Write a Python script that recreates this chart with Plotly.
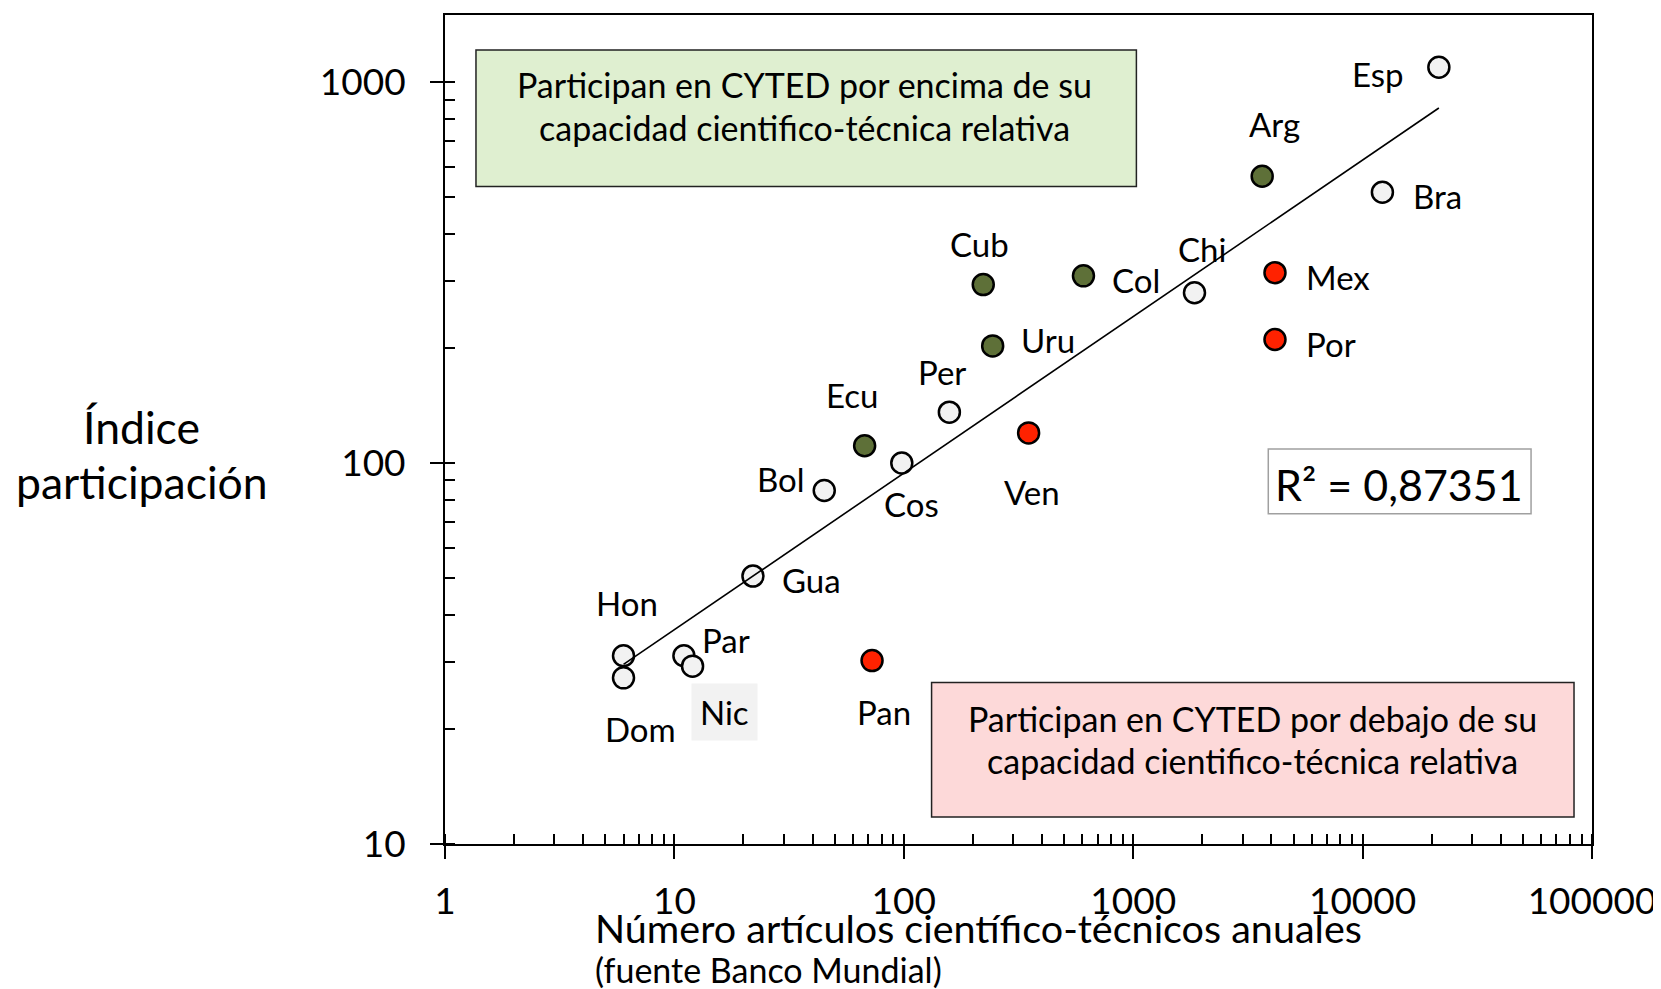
import numpy as np
import plotly.graph_objects as go

# ---- data ----
countries = ["Esp", "Arg", "Bra", "Chi", "Col", "Mex", "Por", "Cub", "Uru", "Per",
             "Ven", "Ecu", "Cos", "Bol", "Gua", "Hon", "Dom", "Par", "Nic", "Pan"]
articles = [21500, 3650, 12200, 1850, 607, 4150, 4150, 222, 244, 158,
            350, 67.5, 98, 45, 22, 6.0, 6.0, 11.0, 12.0, 72.7]
participation = [1094, 566, 514, 280, 310, 316, 211, 294, 203, 136,
                 120, 111, 100, 84.7, 50.5, 31.2, 27.3, 31.2, 29.3, 30.3]
group = ["neutral", "above", "neutral", "neutral", "above", "below", "below", "above", "above", "neutral",
         "below", "above", "neutral", "neutral", "neutral", "neutral", "neutral", "neutral", "neutral", "below"]

trend_x = [6.0, 21500]
trend_y = [29.6, 855]

r2_text = "R² = 0,87351"
x_ticks = [1, 10, 100, 1000, 10000, 100000]
y_ticks = [10, 100, 1000]

# ---- styles ----
FONT = "Lato"
fill_colors = {"above": "#5e7038", "below": "#ff2200", "neutral": "#f2f2f2"}
label_offsets = {
    "Esp": (-61, -7), "Arg": (12, 52), "Bra": (55, -4), "Chi": (8, 44), "Col": (53, -4),
    "Mex": (63, -4), "Por": (56, -4), "Cub": (-4, 41), "Uru": (55, 6), "Per": (-7, 40),
    "Ven": (3, -59), "Ecu": (-13, 51), "Cos": (10, -41), "Bol": (-43, 12), "Gua": (59, -4),
    "Hon": (3, 53), "Par": (42, 16), "Nic": (32, -46), "Dom": (17, -51), "Pan": (12, -51),
}

OFF = 8  # page body margin
PAGE_W, PAGE_H = 1661, 989
W, H = PAGE_W - OFF, PAGE_H - OFF
L, R, T, B = 445 - OFF, 68, 13 - OFF, 145
PW, PH = W - L - R, H - T - B


def xp(px):  # page pixel -> paper
    return (px - OFF - L) / PW


def yp(py):
    return (H - B - (py - OFF)) / PH


fig = go.Figure()

for g in ["neutral", "above", "below"]:
    idx = [i for i, gg in enumerate(group) if gg == g]
    fig.add_trace(go.Scatter(
        x=[articles[i] for i in idx], y=[participation[i] for i in idx],
        mode="markers",
        marker=dict(size=21, color=fill_colors[g], line=dict(color="black", width=2.5)),
        showlegend=False, hoverinfo="skip"))

fig.add_trace(go.Scatter(x=trend_x, y=trend_y, mode="lines",
                         line=dict(color="black", width=1.6), showlegend=False))

# overlay axes for the inner half of major ticks
fig.add_trace(go.Scatter(x=[], y=[], xaxis="x2", yaxis="y2", showlegend=False))

yr = [1, np.log10(1500)]
xr = [0, 5]

fig.update_layout(
    width=W, height=H,
    margin=dict(l=L, r=R, t=T, b=B),
    plot_bgcolor="white", paper_bgcolor="white",
    font=dict(family=FONT, color="black"),
    xaxis=dict(type="log", range=xr, tickvals=x_ticks, ticktext=[str(v) for v in x_ticks],
               ticks="outside", ticklen=13, tickwidth=2, tickcolor="black",
               showline=True, linecolor="black", linewidth=2, mirror=True,
               showgrid=False, zeroline=False, tickfont=dict(size=37, family=FONT),
               ticklabelstandoff=11,
               minor=dict(ticks="inside", ticklen=10, tickwidth=1.5, tickcolor="black",
                          dtick="D1", showgrid=False)),
    yaxis=dict(type="log", range=yr, tickvals=y_ticks, ticktext=[str(v) for v in y_ticks],
               ticks="outside", ticklen=13, tickwidth=2, tickcolor="black",
               showline=True, linecolor="black", linewidth=2, mirror=True,
               showgrid=False, zeroline=False, tickfont=dict(size=37, family=FONT),
               ticklabelstandoff=17,
               minor=dict(ticks="inside", ticklen=10, tickwidth=2, tickcolor="black",
                          dtick="D1", showgrid=False)),
    xaxis2=dict(type="log", range=xr, overlaying="x", anchor="y2", tickvals=x_ticks,
                ticks="inside", ticklen=10, tickwidth=2, tickcolor="black",
                showticklabels=False, showline=False, showgrid=False, zeroline=False),
    yaxis2=dict(type="log", range=yr, overlaying="y", anchor="x2", tickvals=y_ticks,
                ticks="inside", ticklen=10, tickwidth=2, tickcolor="black",
                showticklabels=False, showline=False, showgrid=False, zeroline=False),
)

shapes = [
    dict(type="rect", xref="paper", yref="paper", x0=xp(476), x1=xp(1137), y0=yp(185), y1=yp(48),
         fillcolor="#dfefd0", line=dict(color="#222222", width=1.5), layer="below"),
    dict(type="rect", xref="paper", yref="paper", x0=xp(932), x1=xp(1575), y0=yp(817), y1=yp(682),
         fillcolor="#fdd9d9", line=dict(color="#222222", width=1.5), layer="below"),
    dict(type="rect", xref="paper", yref="paper", x0=xp(1269), x1=xp(1532), y0=yp(513), y1=yp(448),
         fillcolor="white", line=dict(color="#a0a0a0", width=1.5), layer="below"),
]
fig.update_layout(shapes=shapes)

ann = []
for c, xv, yv in zip(countries, articles, participation):
    dx, dy = label_offsets[c]
    a = dict(x=np.log10(xv), y=np.log10(yv), xref="x", yref="y", text=c, showarrow=False,
             xanchor="center", yanchor="middle",
             xshift=dx, yshift=dy, font=dict(size=33, family=FONT, color="black"))
    if c == "Nic":
        a.update(bgcolor="#f2f2f2", borderpad=8)
    ann.append(a)


def txt(px, py, text, size, anchor="center"):
    return dict(xref="paper", yref="paper", x=xp(px), y=yp(py), text=text,
                xanchor=anchor, yanchor="middle", showarrow=False,
                font=dict(size=size, family=FONT, color="black"))


ann += [
    txt(805, 83, "Participan en CYTED por encima de su", 34),
    txt(805, 126, "capacidad cientifico-técnica relativa", 34),
    txt(1253, 718, "Participan en CYTED por debajo de su", 34),
    txt(1253, 760, "capacidad cientifico-técnica relativa", 34),
    txt(1400, 484, r2_text, 43),
    txt(593, 928, "Número artículos científico-técnicos anuales", 39.5, "left"),
    txt(593, 970, "(fuente Banco Mundial)", 34, "left"),
    txt(141, 425, "Índice", 44.5),
    txt(142, 481, "participación", 44.5),
]
fig.update_layout(annotations=ann)

fig.write_html("out.html")
